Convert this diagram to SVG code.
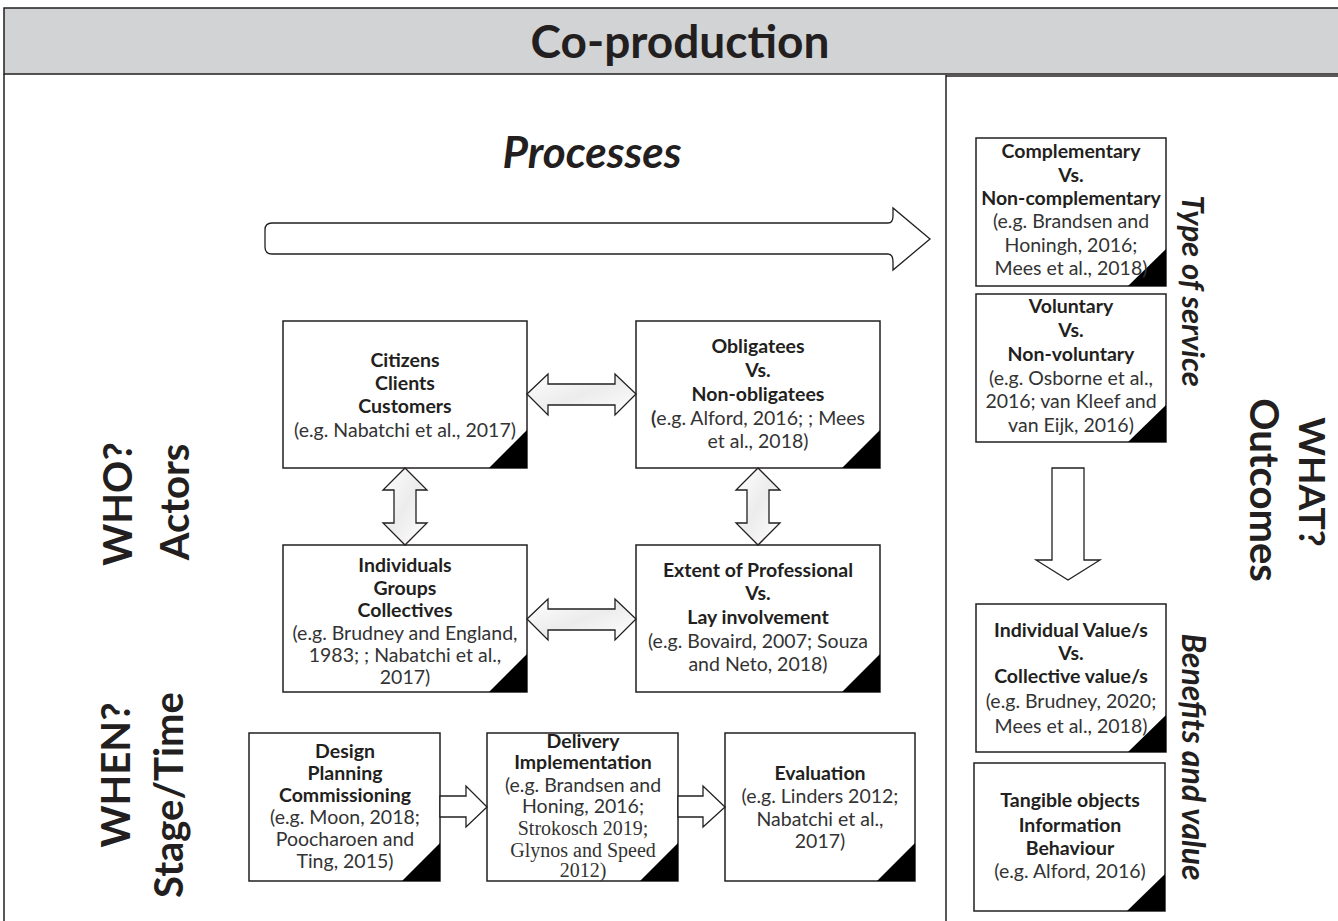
<svg xmlns="http://www.w3.org/2000/svg" width="1338" height="921" viewBox="0 0 1338 921">
<style>
.box{fill:#fff;stroke:#231f20;stroke-width:1.5}
.corner{fill:#000}
.t{font-family:Lato,"Open Sans",sans-serif;font-size:19.5px;fill:#333;text-anchor:middle}
.b{font-weight:bold;fill:#231f20}
.sr{font-family:"Liberation Serif",serif;font-size:20px}
.big{font-family:Lato,"Open Sans",sans-serif;font-weight:bold;fill:#231f20;text-anchor:middle}
.arr{fill:url(#g);stroke:#231f20;stroke-width:1.3}
.arrw{fill:#fff;stroke:#231f20;stroke-width:1.3}
.line{stroke:#231f20;stroke-width:1.5;fill:none}
</style>
<defs>
<linearGradient id="g" x1="0" y1="0" x2="1" y2="1">
<stop offset="0" stop-color="#ffffff"/>
<stop offset="0.5" stop-color="#ececec"/>
<stop offset="1" stop-color="#ffffff"/>
</linearGradient>
</defs>
<rect x="0" y="0" width="1338" height="921" fill="#fff"/>
<g id="frame">
<rect x="4" y="8" width="1340" height="66" fill="#d1d3d4" stroke="#231f20" stroke-width="1.5"/>
<line class="line" x1="4" y1="74" x2="4" y2="921"/>
<line class="line" x1="946" y1="75" x2="946" y2="921"/>
<line class="line" x1="946" y1="76" x2="1338" y2="76"/>
<text class="big" x="680" y="58" font-size="46">Co-production</text>
</g>
<g id="processes">
<text class="big" x="592" y="168" font-size="44" font-style="italic">Processes</text>
<path class="arrw" d="M272,223 L888,223 Q893,223 893,216 L893,208 L930,239 L893,270 L893,262 Q893,254 888,254 L272,254 Q265,254 265,247 L265,230 Q265,223 272,223 Z"/>
</g>
<g id="who-label">
<text class="big" font-size="40" transform="translate(132,504) rotate(-90)">WHO?</text>
<text class="big" font-size="40" transform="translate(189,502) rotate(-90)">Actors</text>
</g>
<g id="when-label">
<text class="big" font-size="40" transform="translate(130,775) rotate(-90)">WHEN?</text>
<text class="big" font-size="40" transform="translate(183,795) rotate(-90)">Stage/Time</text>
</g>
<g id="what-label">
<text class="big" font-size="37" transform="translate(1299,482) rotate(90)">WHAT?</text>
<text class="big" font-size="40" transform="translate(1250,490) rotate(90)">Outcomes</text>
</g>
<g id="type-label">
<text class="big" font-size="31" font-style="italic" transform="translate(1182,291) rotate(90)">Type of service</text>
</g>
<g id="benefits-label">
<text class="big" font-size="32" font-style="italic" transform="translate(1182,757) rotate(90)">Benefits and value</text>
</g>
<g id="citizens">
<rect class="box" x="283" y="321" width="244" height="147"/>
<path class="corner" d="M527,430 L527,468 L489,468 Z"/>
<text class="t b" x="405" y="367">Citizens</text>
<text class="t b" x="405" y="390">Clients</text>
<text class="t b" x="405" y="413">Customers</text>
<text class="t" x="405" y="437">(e.g. Nabatchi et al., 2017)</text>
</g>
<g id="obligatees">
<rect class="box" x="636" y="321" width="244" height="147"/>
<path class="corner" d="M880,430 L880,468 L842,468 Z"/>
<text class="t b" x="758" y="353">Obligatees</text>
<text class="t b" x="758" y="377">Vs.</text>
<text class="t b" x="758" y="401">Non-obligatees</text>
<text class="t" x="758" y="425"><tspan font-weight="bold">(</tspan>e.g. Alford, 2016; ; Mees</text>
<text class="t" x="758" y="448">et al., 2018)</text>
</g>
<g id="individuals">
<rect class="box" x="283" y="545" width="244" height="147"/>
<path class="corner" d="M527,654 L527,692 L489,692 Z"/>
<text class="t b" x="405" y="572">Individuals</text>
<text class="t b" x="405" y="595">Groups</text>
<text class="t b" x="405" y="617">Collectives</text>
<text class="t" x="405" y="640">(e.g. Brudney and England,</text>
<text class="t" x="405" y="662">1983; ; Nabatchi et al.,</text>
<text class="t" x="405" y="684">2017)</text>
</g>
<g id="extent">
<rect class="box" x="636" y="545" width="244" height="147"/>
<path class="corner" d="M880,654 L880,692 L842,692 Z"/>
<text class="t b" x="758" y="577">Extent of Professional</text>
<text class="t b" x="758" y="600">Vs.</text>
<text class="t b" x="758" y="624">Lay involvement</text>
<text class="t" x="758" y="648">(e.g. Bovaird, 2007; Souza</text>
<text class="t" x="758" y="671">and Neto, 2018)</text>
</g>
<g id="design">
<rect class="box" x="249" y="733" width="191" height="148"/>
<path class="corner" d="M440,843 L440,881 L402,881 Z"/>
<text class="t b" x="345" y="758">Design</text>
<text class="t b" x="345" y="780">Planning</text>
<text class="t b" x="345" y="802">Commissioning</text>
<text class="t" x="345" y="824">(e.g. Moon, 2018;</text>
<text class="t" x="345" y="846">Poocharoen and</text>
<text class="t" x="345" y="868">Ting, 2015)</text>
</g>
<g id="delivery">
<rect class="box" x="487" y="733" width="191" height="148"/>
<path class="corner" d="M678,843 L678,881 L640,881 Z"/>
<text class="t b" x="583" y="748">Delivery</text>
<text class="t b" x="583" y="769">Implementation</text>
<text class="t" x="583" y="792">(e.g. Brandsen and</text>
<text class="t" x="583" y="813">Honing, 2016;</text>
<text class="t sr" x="583" y="835">Strokosch 2019;</text>
<text class="t sr" x="583" y="857">Glynos and Speed</text>
<text class="t sr" x="583" y="877">2012)</text>
</g>
<g id="evaluation">
<rect class="box" x="725" y="733" width="190" height="148"/>
<path class="corner" d="M915,843 L915,881 L877,881 Z"/>
<text class="t b" x="820" y="780">Evaluation</text>
<text class="t" x="820" y="803">(e.g. Linders 2012;</text>
<text class="t" x="820" y="826">Nabatchi et al.,</text>
<text class="t" x="820" y="848">2017)</text>
</g>
<g id="complementary">
<rect class="box" x="976" y="138" width="190" height="148"/>
<path class="corner" d="M1166,249 L1166,286 L1128,286 Z"/>
<text class="t b" x="1071" y="158">Complementary</text>
<text class="t b" x="1071" y="182">Vs.</text>
<text class="t b" x="1071" y="205">Non-complementary</text>
<text class="t" x="1071" y="228">(e.g. Brandsen and</text>
<text class="t" x="1071" y="252">Honingh, 2016;</text>
<text class="t" x="1071" y="275">Mees et al., 2018)</text>
</g>
<g id="voluntary">
<rect class="box" x="976" y="294" width="190" height="148"/>
<path class="corner" d="M1166,405 L1166,442 L1128,442 Z"/>
<text class="t b" x="1071" y="313">Voluntary</text>
<text class="t b" x="1071" y="337">Vs.</text>
<text class="t b" x="1071" y="361">Non-voluntary</text>
<text class="t" x="1071" y="385">(e.g. Osborne et al.,</text>
<text class="t" x="1071" y="408">2016; van Kleef and</text>
<text class="t" x="1071" y="432">van Eijk, 2016)</text>
</g>
<g id="individual-value">
<rect class="box" x="976" y="604" width="190" height="148"/>
<path class="corner" d="M1166,715 L1166,752 L1128,752 Z"/>
<text class="t b" x="1071" y="637">Individual Value/s</text>
<text class="t b" x="1071" y="660">Vs.</text>
<text class="t b" x="1071" y="683">Collective value/s</text>
<text class="t" x="1071" y="708">(e.g. Brudney, 2020;</text>
<text class="t" x="1071" y="733">Mees et al., 2018)</text>
</g>
<g id="tangible">
<rect class="box" x="974" y="763" width="191" height="148"/>
<path class="corner" d="M1165,874 L1165,911 L1127,911 Z"/>
<text class="t b" x="1070" y="807">Tangible objects</text>
<text class="t b" x="1070" y="832">Information</text>
<text class="t b" x="1070" y="855">Behaviour</text>
<text class="t" x="1070" y="878">(e.g. Alford, 2016)</text>
</g>
<g id="connectors">
<path class="arr" d="M527,394 L548,374 L548,384 L615,384 L615,374 L636,394 L615,415 L615,405 L548,405 L548,415 Z"/>
<path class="arr" d="M527,619 L548,599 L548,609 L615,609 L615,599 L636,619 L615,640 L615,630 L548,630 L548,640 Z"/>
<path class="arr" d="M405,468 L427,490 L416,490 L416,523 L427,523 L405,545 L383,523 L394,523 L394,490 L383,490 Z"/>
<path class="arr" d="M758,468 L780,490 L769,490 L769,523 L780,523 L758,545 L736,523 L747,523 L747,490 L736,490 Z"/>
<path class="arrw" d="M440,796 L466,796 L466,786 L487,807 L466,827 L466,817 L440,817 Z"/>
<path class="arrw" d="M678,796 L703,796 L703,786 L725,807 L703,827 L703,817 L678,817 Z"/>
<path class="arrw" d="M1052,468 L1084,468 L1084,560 L1100,560 L1068,580 L1036,560 L1052,560 Z"/>
</g>
</svg>
